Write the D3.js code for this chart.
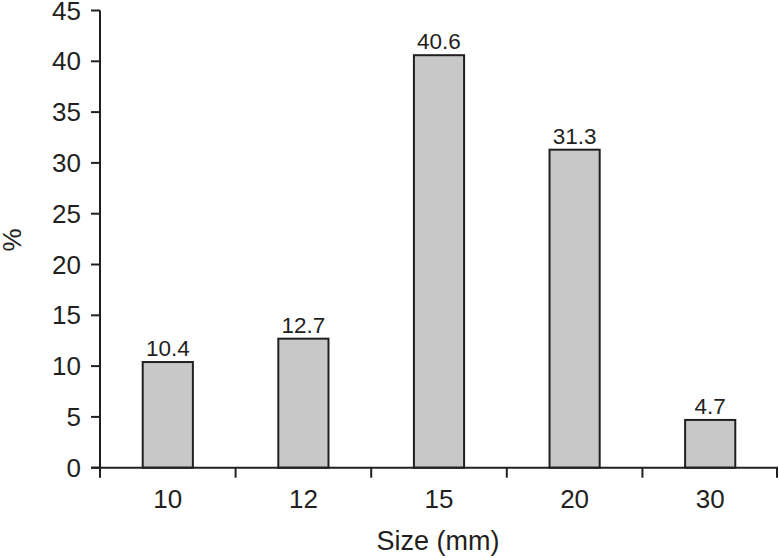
<!DOCTYPE html>
<html>
<head>
<meta charset="utf-8">
<script src="https://cdn.jsdelivr.net/npm/d3@7"></script>
<style>
  body { margin: 0; background: #fff; }
  text { font-family: "Liberation Sans", Arial, sans-serif; fill: #231f20; }
</style>
</head>
<body>
<div id="chart"></div>
<script>
// data
var categories = ["10", "12", "15", "20", "30"];
var values = [10.4, 12.7, 40.6, 31.3, 4.7];
var yTicks = [0, 5, 10, 15, 20, 25, 30, 35, 40, 45];

var W = 779, H = 558;
var padL = 100, padR = 778, padT = 10.5, padB = 467.7;
var ink = "#231f20";

var svg = d3.select("#chart").append("svg")
    .attr("width", W)
    .attr("height", H);

var y = d3.scaleLinear().domain([0, 45]).range([padB, padT]);

// bars
var x = d3.scaleBand().domain(categories).range([padL, padR])
    .paddingInner(0.63).paddingOuter(0.315);
// plain bands for the tick marks between categories
var xb = d3.scaleBand().domain(categories).range([padL, padR]);

svg.selectAll("rect.bar")
    .data(values)
    .enter()
    .append("rect")
    .attr("class", "bar")
    .attr("x", function (d, i) { return x(categories[i]); })
    .attr("y", function (d) { return y(d); })
    .attr("width", x.bandwidth())
    .attr("height", function (d) { return y(0) - y(d); })
    .style("fill", "#c8c8c8")
    .style("stroke", ink)
    .style("stroke-width", 2);

svg.selectAll("text.val")
    .data(values)
    .enter()
    .append("text")
    .attr("class", "val")
    .attr("x", function (d, i) { return x(categories[i]) + x.bandwidth() / 2; })
    .attr("y", function (d) { return y(d) - 6; })
    .attr("text-anchor", "middle")
    .attr("font-size", "22.5px")
    .text(function (d) { return d.toFixed(1); });

// y axis
var yAxis = svg.append("g");
yAxis.append("line")
    .attr("x1", padL).attr("x2", padL)
    .attr("y1", y(45)).attr("y2", y(0))
    .style("stroke", ink).style("stroke-width", 2);
yAxis.selectAll("line.tick")
    .data(yTicks)
    .enter()
    .append("line")
    .attr("class", "tick")
    .attr("x1", padL - 9).attr("x2", padL)
    .attr("y1", function (d) { return y(d); })
    .attr("y2", function (d) { return y(d); })
    .style("stroke", ink).style("stroke-width", 2);
yAxis.selectAll("text")
    .data(yTicks)
    .enter()
    .append("text")
    .attr("x", padL - 19)
    .attr("y", function (d) { return y(d) + 9; })
    .attr("text-anchor", "end")
    .attr("font-size", "26px")
    .text(function (d) { return d; });

// x axis
var xAxis = svg.append("g");
xAxis.append("line")
    .attr("x1", padL - 9).attr("x2", padR)
    .attr("y1", padB).attr("y2", padB)
    .style("stroke", ink).style("stroke-width", 2);
var bounds = categories.map(function (c) { return xb(c); }).concat([padR - 1]);
xAxis.selectAll("line.tick")
    .data(bounds)
    .enter()
    .append("line")
    .attr("class", "tick")
    .attr("x1", function (d) { return d; })
    .attr("x2", function (d) { return d; })
    .attr("y1", padB).attr("y2", padB + 10)
    .style("stroke", ink).style("stroke-width", 2);
xAxis.selectAll("text")
    .data(categories)
    .enter()
    .append("text")
    .attr("x", function (d) { return xb(d) + xb.bandwidth() / 2; })
    .attr("y", padB + 40)
    .attr("text-anchor", "middle")
    .attr("font-size", "26px")
    .text(function (d) { return d; });

// axis titles
svg.append("text")
    .attr("x", 438)
    .attr("y", 550)
    .attr("text-anchor", "middle")
    .attr("font-size", "27px")
    .text("Size (mm)");

svg.append("text")
    .attr("transform", "translate(21,240) rotate(-90)")
    .attr("text-anchor", "middle")
    .attr("font-size", "26px")
    .text("%");
</script>
</body>
</html>
